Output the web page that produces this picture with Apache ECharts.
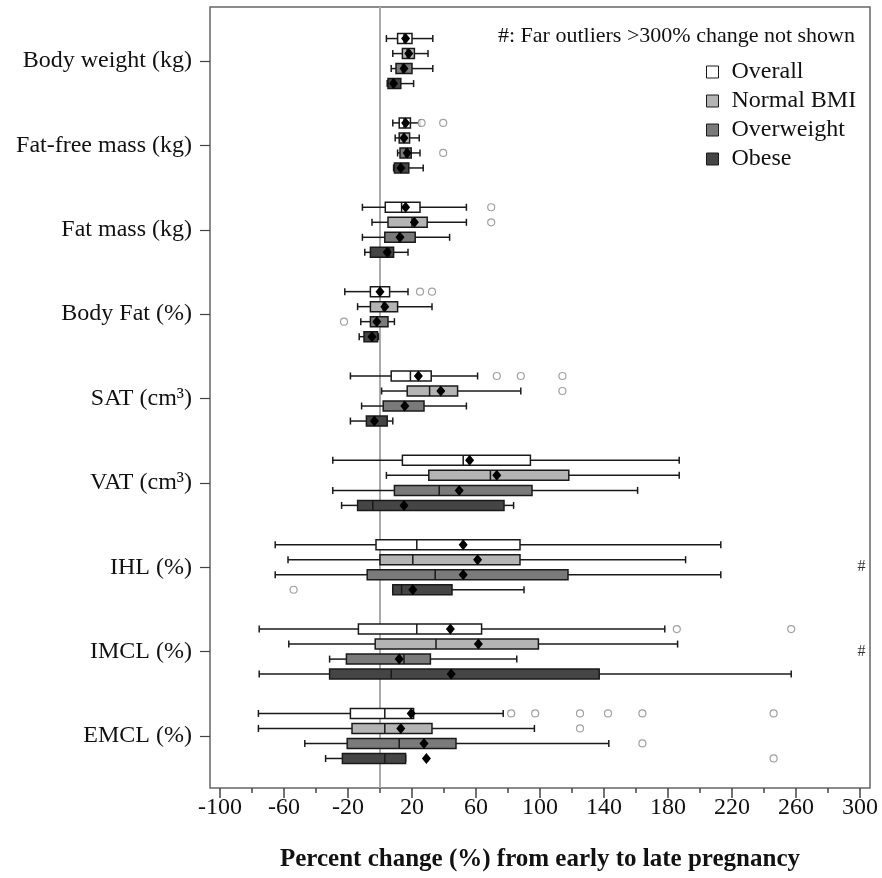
<!DOCTYPE html>
<html>
<head>
<meta charset="utf-8">
<script src="https://cdn.jsdelivr.net/npm/echarts@6/dist/echarts.min.js"></script>
<style>
  html, body { margin: 0; padding: 0; background: #fff; }
  #main { width: 882px; height: 878px; }
</style>
</head>
<body>
<div id="main"></div>
<script>
// categories, top to bottom
const categories = ['Body weight (kg)', 'Fat-free mass (kg)', 'Fat mass (kg)', 'Body Fat (%)',
  'SAT (cm³)', 'VAT (cm³)', 'IHL (%)', 'IMCL (%)', 'EMCL (%)'];
const groups = ['Overall', 'Normal BMI', 'Overweight', 'Obese'];

// each row: [lower whisker, Q1, median, Q3, upper whisker, mean]
const overallStats = [
  [4, 11, 15, 20, 33, 16],
  [8, 12, 15, 19, 25, 16],
  [-11, 3.3, 13.5, 25, 54, 16],
  [-22, -6, 0, 6, 17.5, 0],
  [-18.5, 7, 19, 32, 61, 24],
  [-29.5, 14, 52, 94, 187, 56],
  [-65.5, -2.5, 23, 87.5, 213, 52],
  [-75.5, -13.5, 23, 63.5, 178, 44],
  [-76, -18.5, 3, 21, 77, 19.5]
];
const normalStats = [
  [8, 14, 17, 21.5, 30, 18],
  [9.5, 12, 15, 18.5, 24.5, 15],
  [-5, 5, 20, 29.5, 54, 21.5],
  [-14, -6, 2, 11, 32.5, 3],
  [1, 17, 31, 48.5, 88, 38],
  [4, 30.5, 69, 118, 187, 73],
  [-57.5, 0, 20.5, 87.5, 191, 61],
  [-57, -3, 35, 99, 186, 61.5],
  [-76, -17.5, 3, 32.5, 96.5, 13]
];
const overweightStats = [
  [7, 10, 14, 20, 33, 15],
  [11, 12.5, 16, 19.5, 25, 17],
  [-11, 3, 12, 22, 43.5, 12.5],
  [-12, -6, -2, 5, 9, -2],
  [-11.5, 2, 15, 27.5, 54, 15.5],
  [-29.5, 9, 37, 95, 161, 49.5],
  [-65.5, -8, 34.5, 117.5, 213, 52],
  [-31.5, -21, 15, 31.5, 85.5, 12],
  [-47, -20.5, 12, 47.5, 143, 27.5]
];
const obeseStats = [
  [4.5, 5, 8, 13, 21, 8.5],
  [8.5, 9, 13, 18, 27, 13],
  [-9.5, -6, 6, 8.5, 17.5, 4.5],
  [-13, -10, -5, -1.5, -1, -5],
  [-18.5, -8.5, -4, 4.5, 8, -3.5],
  [-24, -14, -4.5, 77.5, 83.5, 15],
  [8, 8, 13.5, 45, 90, 20.5],
  [-75.5, -31.5, 7, 137, 257, 44.5],
  [-34, -23.5, 3, 16, 16, 29]
];
// outliers: [category index, value]
const overallOutliers = [[1, 26], [1, 39.5], [2, 69.5], [3, 25], [3, 32.5], [4, 73], [4, 88], [4, 114],
  [7, 185.5], [7, 257], [8, 82], [8, 97], [8, 125], [8, 142.5], [8, 164], [8, 246]];
const normalOutliers = [[2, 69.5], [4, 114], [8, 125]];
const overweightOutliers = [[1, 39.5], [3, -22.5], [8, 164]];
const obeseOutliers = [[6, -54], [8, 246]];
const farOutlierRows = ['IHL (%)', 'IMCL (%)'];

const majorTicks = [-100, -60, -20, 20, 60, 100, 140, 180, 220, 260, 300];
const minorTicks = [-80, -40, 0, 40, 80, 120, 160, 200, 240, 280];

const groupStats = [overallStats, normalStats, overweightStats, obeseStats];
const groupOutliers = [overallOutliers, normalOutliers, overweightOutliers, obeseOutliers];
const groupColors = ['#ffffff', '#b4b4b4', '#7a7a7a', '#454545'];

const FONT = '"Liberation Serif", "Times New Roman", serif';
const rowStep = 0.178;
const offsetOf = g => (g - 1.5) * rowStep;

const renderBox = (params, api) => {
  const y = api.value(0);
  const p = i => api.coord([api.value(i), y]);
  const wl = p(1), q1 = p(2), md = p(3), q3 = p(4), wr = p(5), mn = p(6);
  const cy = wl[1];
  const h = 5, cap = 3.5;
  const ls = { stroke: '#1a1a1a', lineWidth: 1.5 };
  return {
    type: 'group',
    children: [
      { type: 'line', shape: { x1: wl[0], y1: cy, x2: q1[0], y2: cy }, style: ls },
      { type: 'line', shape: { x1: q3[0], y1: cy, x2: wr[0], y2: cy }, style: ls },
      { type: 'line', shape: { x1: wl[0], y1: cy - cap, x2: wl[0], y2: cy + cap }, style: ls },
      { type: 'line', shape: { x1: wr[0], y1: cy - cap, x2: wr[0], y2: cy + cap }, style: ls },
      { type: 'rect', shape: { x: q1[0], y: cy - h, width: q3[0] - q1[0], height: 2 * h },
        style: { fill: api.visual('color'), stroke: '#1a1a1a', lineWidth: 1.5 } },
      { type: 'line', shape: { x1: md[0], y1: cy - h, x2: md[0], y2: cy + h }, style: ls },
      { type: 'polygon', shape: { points: [[mn[0], cy - 5.5], [mn[0] + 4.5, cy], [mn[0], cy + 5.5], [mn[0] - 4.5, cy]] },
        style: { fill: '#000' } }
    ]
  };
};

const series = groups.map((name, g) => ({
  name,
  type: 'custom',
  renderItem: renderBox,
  itemStyle: { color: groupColors[g], borderColor: '#1a1a1a', borderWidth: 1 },
  encode: { x: [1, 2, 3, 4, 5, 6], y: 0 },
  data: groupStats[g].map((s, i) => [i + offsetOf(g), ...s]),
  z: 3
}));

const outlierData = [];
groupOutliers.forEach((list, g) => {
  list.forEach(([ci, v]) => outlierData.push([v, ci + offsetOf(g)]));
});

series.push({
  name: 'outliers',
  type: 'scatter',
  symbol: 'circle',
  symbolSize: 7,
  itemStyle: { color: '#fff', borderColor: '#8a8a8a', borderWidth: 1.2 },
  data: outlierData,
  z: 4,
  markLine: {
    silent: true,
    z: 1,
    symbol: ['none', 'none'],
    label: { show: false },
    lineStyle: { color: '#ababab', width: 2, type: 'solid' },
    data: [{ xAxis: 0 }]
  }
});

series.push({
  name: 'far',
  type: 'scatter',
  symbolSize: 0,
  data: farOutlierRows.map(r => [301, categories.indexOf(r)]),
  label: { show: true, position: 'inside', formatter: '#', fontFamily: FONT, fontSize: 16, color: '#000' },
  z: 4
});

const chart = echarts.init(document.getElementById('main'));
chart.setOption({
  animation: false,
  backgroundColor: '#fff',
  title: {
    text: '#: Far outliers >300% change not shown',
    right: 22, top: 20,
    textStyle: { fontFamily: FONT, fontSize: 22, fontWeight: 'normal', color: '#111' }
  },
  legend: {
    data: groups,
    orient: 'vertical',
    left: 706, top: 60,
    padding: 0,
    itemWidth: 12, itemHeight: 12, itemGap: 5,
    icon: 'rect',
    itemStyle: { borderColor: '#1a1a1a', borderWidth: 1 },
    textStyle: { fontFamily: FONT, fontSize: 24, color: '#111', lineHeight: 24, padding: [0, 0, 0, 8] }
  },
  grid: {
    left: 210, right: 12, top: 7, bottom: 90,
    show: true, borderColor: '#666', borderWidth: 1.5
  },
  xAxis: [{
    type: 'value', min: -106.25, max: 306.25, position: 'bottom',
    axisLine: { show: false, onZero: false },
    splitLine: { show: false },
    axisTick: { customValues: majorTicks, length: 10, lineStyle: { color: '#444', width: 1.5 } },
    axisLabel: { customValues: majorTicks, margin: 8, fontFamily: FONT, fontSize: 24, color: '#111' },
    name: 'Percent change (%) from early to late pregnancy',
    nameLocation: 'middle', nameGap: 59,
    nameTextStyle: { fontFamily: FONT, fontSize: 25, fontWeight: 'bold', color: '#111' }
  }, {
    type: 'value', min: -106.25, max: 306.25, position: 'bottom',
    axisLine: { show: false, onZero: false },
    splitLine: { show: false },
    axisTick: { customValues: minorTicks, length: 5, lineStyle: { color: '#444', width: 1.5 } },
    axisLabel: { show: false }
  }],
  yAxis: {
    type: 'value', inverse: true, min: -0.641, max: 8.617, position: 'left',
    axisLine: { show: false, onZero: false },
    splitLine: { show: false },
    axisTick: { customValues: [0, 1, 2, 3, 4, 5, 6, 7, 8], length: 10, lineStyle: { color: '#444', width: 1.2 } },
    axisLabel: {
      customValues: [0, 1, 2, 3, 4, 5, 6, 7, 8],
      formatter: v => categories[Math.round(v)],
      margin: 18, fontFamily: FONT, fontSize: 24, color: '#111'
    }
  },
  series
});
</script>
</body>
</html>
